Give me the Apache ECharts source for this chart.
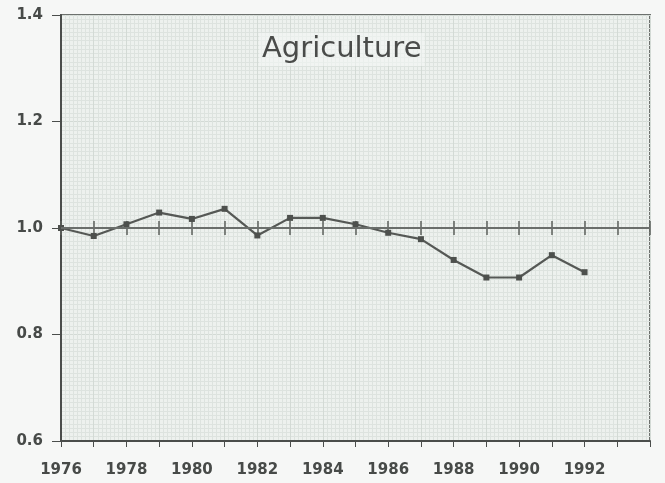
<!DOCTYPE html>
<html>
<head>
<meta charset="utf-8">
<script src="https://cdn.jsdelivr.net/npm/echarts@6/dist/echarts.min.js"></script>
<style>
  html, body { margin: 0; padding: 0; background: #f6f7f6; }
  #chart { width: 665px; height: 483px; }
</style>
</head>
<body>
<div id="chart"></div>
<script>
// agriculture index, 1976 = 1.0
const years = [1976, 1977, 1978, 1979, 1980, 1981, 1982, 1983, 1984, 1985, 1986, 1987, 1988, 1989, 1990, 1991, 1992];
const values = [1.0, 0.985, 1.007, 1.029, 1.017, 1.036, 0.986, 1.019, 1.019, 1.007, 0.991, 0.979, 0.940, 0.907, 0.907, 0.949, 0.917];
const yTicks = [0.6, 0.8, 1.0, 1.2, 1.4];
const xLabelYears = [1976, 1978, 1980, 1982, 1984, 1986, 1988, 1990, 1992];

const ink = '#4a4d4b';
const paper = '#dde3df';
const labelFont = { fontFamily: 'DejaVu Sans', fontSize: 15, fontWeight: 'bold', color: '#474a48' };

const chart = echarts.init(document.getElementById('chart'));

// crossing axis drawn along the 1.0 line
const midAxis = function (inside) {
    return {
        type: 'value', min: 1976, max: 1994, interval: 1,
        position: 'bottom', offset: -213,
        axisLine: { show: false },
        axisTick: { show: true, inside: inside, length: 7, lineStyle: { color: '#5d615e', width: 1.5 } },
        axisLabel: { show: false },
        splitLine: { show: false }
    };
};

const option = {
    backgroundColor: '#f6f7f6',
    title: {
        text: 'Agriculture',
        left: 259, top: 33,
        padding: [2, 3],
        backgroundColor: 'rgba(244,247,245,0.6)',
        textStyle: { fontFamily: 'DejaVu Sans', fontSize: 29, fontWeight: 'normal', color: '#4a4c4a' }
    },
    grid: {
        left: 61, top: 15, right: 15, bottom: 42,
        show: true, backgroundColor: '#edf1ee', borderColor: '#6d716e', borderWidth: 2
    },
    xAxis: [
        {
            type: 'value', min: 1976, max: 1994, interval: 1,
            axisLine: { show: true, lineStyle: { color: ink, width: 2 } },
            axisTick: { show: true, length: 6, lineStyle: { color: ink } },
            axisLabel: Object.assign({
                margin: 22,
                formatter: function (v) { return xLabelYears.indexOf(v) >= 0 ? String(v) : ''; }
            }, labelFont),
            splitLine: { show: true, lineStyle: { color: '#d3dad5', width: 1 } },
            minorTick: { show: false, splitNumber: 8 },
            minorSplitLine: { show: true, lineStyle: { color: paper, width: 1 } }
        },
        midAxis(true),
        midAxis(false)
    ],
    yAxis: {
        type: 'value', min: 0.6, max: 1.4, interval: 0.2,
        axisLine: { show: true, lineStyle: { color: ink, width: 2 } },
        axisTick: { show: true, length: 9, lineStyle: { color: ink } },
        axisLabel: Object.assign({
            margin: 18,
            formatter: function (v) {
                const t = yTicks.find(function (k) { return Math.abs(k - v) < 1e-6; });
                return t === undefined ? '' : t.toFixed(1);
            }
        }, labelFont),
        splitLine: { show: true, lineStyle: { color: '#d3dad5', width: 1 } },
        minorTick: { show: false, splitNumber: 25 },
        minorSplitLine: { show: true, lineStyle: { color: paper, width: 1 } }
    },
    series: [
        {
            type: 'line',
            xAxisIndex: 0,
            data: years.map(function (y, i) { return [y, values[i]]; }),
            symbol: 'rect', symbolSize: 6,
            itemStyle: { color: '#4d504d' },
            lineStyle: { color: '#555855', width: 2.2 },
            markLine: {
                silent: true, symbol: 'none', label: { show: false },
                lineStyle: { color: '#6a6e6b', type: 'solid', width: 2 },
                data: [{ yAxis: 1.0 }]
            },
            animation: false
        }
    ]
};
chart.setOption(option);
</script>
</body>
</html>
